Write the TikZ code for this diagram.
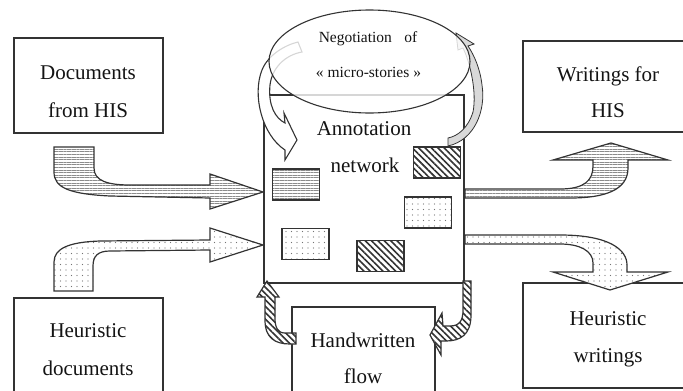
\documentclass[tikz,border=0pt]{standalone}
\usepackage{fontspec}
\setmainfont{Liberation Serif}
\usetikzlibrary{shapes.geometric,patterns.meta}
\definecolor{ink}{HTML}{333333}
\begin{document}
\begin{tikzpicture}[x=1pt,y=-1pt,
  box/.style={draw=ink, line width=1.1pt, fill=white, inner sep=0pt},
  lbl/.style={font=\fontsize{21}{25}\selectfont, text=black!92, inner sep=0pt, anchor=base},
  lblsmall/.style={font=\fontsize{15.5}{18}\selectfont, text=black!92, inner sep=0pt, anchor=base},
  wavef/.style={pattern={Lines[angle=0,distance=2.6pt,line width=0.6pt]}, pattern color=black!45},
  dotf/.style={pattern={Dots[distance=5.5pt,radius=0.6pt]}, pattern color=black!55},
  hatchf/.style={pattern={Lines[angle=-45,distance=4.5pt,line width=1.6pt]}, pattern color=black!80},
  blk/.style={draw=ink, line width=1.2pt, line join=miter, preaction={fill=white}},
  smallbox/.style={draw=ink, line width=1.1pt, inner sep=0pt, minimum width=47pt, minimum height=31pt, preaction={fill=white}}
]
\useasboundingbox (0,0) rectangle (683,391);

% main annotation rectangle
\node[box, minimum width=200pt, minimum height=188pt] (net) at (364,189) {};

% small rectangles
\node[smallbox, wavef]  (r1) at (296,184.5) {};
\node[smallbox, hatchf] (r2) at (437,162.5) {};
\node[smallbox, dotf]   (r3) at (428,212.5) {};
\node[smallbox, dotf]   (r4) at (305.5,244) {};
\node[smallbox, hatchf] (r5) at (380.5,256) {};

% curved arrow around the left of the ellipse
\draw[draw=ink, line width=1.1pt, fill=white, line join=miter]
  (298,42) .. controls (285,45) and (268,55) .. (262,70)
  .. controls (252,95) and (262,135) .. (285,150)
  -- (285,160) -- (297,140) -- (284,113) -- (285,123)
  .. controls (275,118) and (268,105) .. (270,85)
  .. controls (272,68) and (285,55) .. (302,52) -- cycle;

% curved arrow around the right of the ellipse
\draw[draw=ink, line width=0.8pt, fill=black!15, line join=miter]
  (448,138) -- (448,146)
  .. controls (475,140) and (486,110) .. (482,85)
  .. controls (480,68) and (474,55) .. (468,46)
  -- (474,44) -- (456,33) -- (458,50) -- (463,48)
  .. controls (470,62) and (477,92) .. (473,112)
  .. controls (468,128) and (458,136) .. (448,138) -- cycle;

% ellipse
\node[draw=ink, line width=1.1pt, ellipse, fill=white, fill opacity=0.8,
      minimum width=201pt, minimum height=103pt, inner sep=0pt] (neg) at (369.5,61.5) {};
\node[lblsmall] (negA) at (368,42) {Negotiation\hspace{0.55em} of};
\node[lblsmall] (negB) at (368.5,77) {« micro-stories »};

\node[lbl] (netA) at (364,135) {Annotation};
\node[lbl] (netB) at (365,172) {network};

% boxes
\node[box, minimum width=149pt, minimum height=95pt] (dochis) at (88.5,85.5) {};
\node[lbl] (dochisA) at (88,79) {Documents};
\node[lbl] (dochisB) at (88,117) {from HIS};

\node[box, minimum width=149pt, minimum height=97pt] (heurdoc) at (88.5,346.5) {};
\node[lbl] (heurdocA) at (88,337) {Heuristic};
\node[lbl] (heurdocB) at (88,375) {documents};

\node[box, minimum width=163pt, minimum height=91pt] (wrhis) at (604.5,86.5) {};
\node[lbl] (wrhisA) at (608,81) {Writings for};
\node[lbl] (wrhisB) at (608,117) {HIS};

\node[box, minimum width=163pt, minimum height=105pt] (heurwr) at (604.5,335.5) {};

\node[box, minimum width=143pt, minimum height=88pt] (hand) at (363.5,351) {};

% block arrows
% from Documents from HIS
\draw[blk, wavef]
  (54,147) -- (94,147) -- (94,168)
  .. controls (94,181) and (108,185) .. (130,185)
  -- (210,185) -- (210,174) -- (263,192) -- (210,209) -- (210,198)
  -- (110,196) .. controls (70,194) and (54,188) .. (54,172) -- cycle;

% from Heuristic documents
\draw[blk, dotf]
  (54,291) -- (54,262) .. controls (54,248) and (70,242) .. (100,241)
  -- (210,240) -- (210,228) -- (263,245) -- (210,262) -- (210,250)
  -- (110,251) .. controls (98,251) and (93,256) .. (93,266)
  -- (93,291) -- cycle;

% to Writings for HIS
\draw[blk, wavef]
  (465,189) -- (560,189) .. controls (585,189) and (593,180) .. (593,166)
  -- (593,160) -- (553,160) -- (611,143) -- (668,160) -- (628,160) -- (628,168)
  .. controls (628,190) and (605,198) .. (570,198) -- (465,198) -- cycle;

% to Heuristic writings
\draw[blk, dotf]
  (465,235) -- (560,235) .. controls (610,235) and (627,250) .. (627,265)
  -- (627,272) -- (668,272) -- (610,290) -- (553,272) -- (593,272) -- (593,263)
  .. controls (593,251) and (580,244) .. (560,244) -- (465,244) -- cycle;

% Handwritten flow -> annotation network (left)
\draw[blk, hatchf]
  (296,333) -- (285,333) .. controls (278,333) and (275,328) .. (275,318)
  -- (275,297) -- (279,297) -- (267,281) -- (257,297) -- (265,297)
  -- (265,320) .. controls (265,338) and (275,344) .. (290,344) -- (296,344) -- cycle;

% annotation network -> Handwritten flow (right)
\draw[blk, hatchf]
  (463,281) -- (471,281) -- (471,315) .. controls (471,335) and (460,341) .. (446,341)
  -- (441,341) -- (441,355) -- (430,335) -- (442,313) -- (443,326) -- (450,326)
  .. controls (460,326) and (463,320) .. (463,310) -- cycle;

\node[lbl] (heurwrA) at (608,325) {Heuristic};
\node[lbl] (heurwrB) at (608,362) {writings};
\node[lbl] (handA) at (363,347) {Handwritten};
\node[lbl] (handB) at (363,383) {flow};
\end{tikzpicture}
\end{document}
